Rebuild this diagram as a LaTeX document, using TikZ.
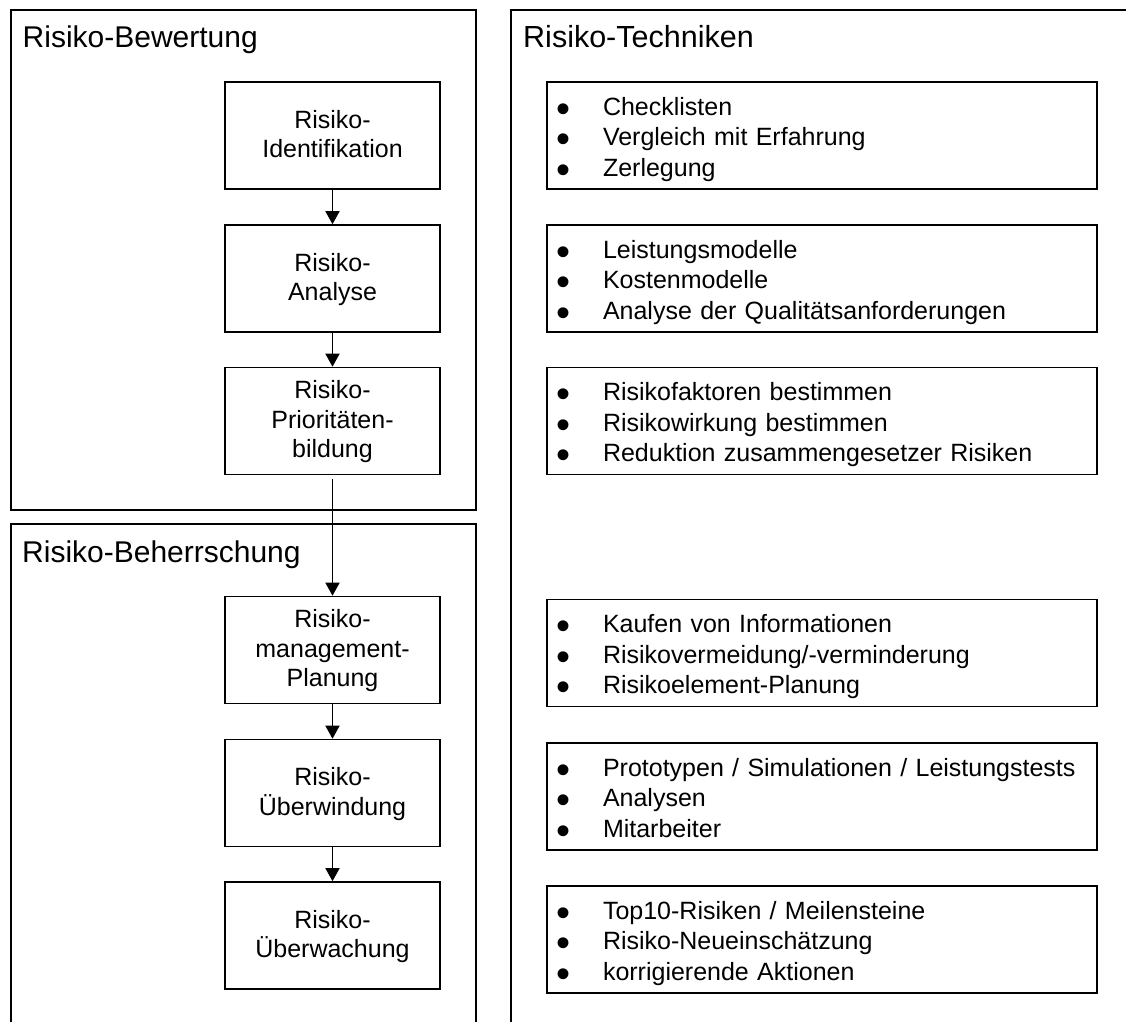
\documentclass[tikz,border=0pt]{standalone}
\usepackage{fontspec}
\setmainfont{Liberation Sans}
\usetikzlibrary{arrows.meta}
% bullet centred in a fixed slot, then the item text
\newcommand\techitem[1]{\makebox[44.4pt][l]{\makebox[8.8pt][c]{\smash{\raisebox{-7pt}{\scalebox{1.6}{•}}}}}#1}
\begin{document}
\begin{tikzpicture}[x=1pt,y=-1pt,
  frame/.style={draw, line width=1.6pt},
  paneltitle/.style={anchor=base west, inner sep=0pt, font=\fontsize{30}{35}\selectfont},
  stage/.style={draw, line width=1.6pt, minimum width=215pt, minimum height=107pt,
    text width=205pt, align=center, inner sep=0pt,
    font=\fontsize{25}{29.5}\selectfont, text height=14.5pt},
  twolines/.style={text depth=29.5pt},
  threelines/.style={text depth=59pt},
  techlist/.style={draw, line width=1.6pt, minimum width=550pt, minimum height=107pt,
    inner xsep=11.6pt, inner ysep=0pt, text width=526.8pt, align=left,
    font=\fontsize{25}{30.5}\selectfont, text height=20pt, text depth=61pt},
  flow/.style={line width=1.5pt, -{Triangle[length=13pt,width=14pt]}}
]
\useasboundingbox (0,0) rectangle (1126,1021);
\clip (0,0) rectangle (1126,1021);

% panels
\draw[frame] (11,10) rectangle (476,510);
\draw[frame] (11,524) rectangle (476,1040);
\draw[frame] (511,10) rectangle (1145,1040);

\node[paneltitle] (tBew) at (22.5,47) {Risiko-Bewertung};
\node[paneltitle] (tBeh) at (22,562) {Risiko-Beherrschung};
\node[paneltitle, font=\fontsize{30.5}{35}\selectfont] (tTech) at (523,47) {Risiko-Techniken};

% process steps
\node[stage,twolines]   (b1) at (332.5,135.5) {Risiko-\\Identifikation};
\node[stage,twolines]   (b2) at (332.5,278.5) {Risiko-\\Analyse};
\node[stage,threelines] (b3) at (332.5,421)   {Risiko-\\Prioritäten-\\bildung};
\node[stage,threelines] (b4) at (332.5,650)   {Risiko-\\management-\\Planung};
\node[stage,twolines]   (b5) at (332.5,793)   {Risiko-\\Überwindung};
\node[stage,twolines]   (b6) at (332.5,935.5) {Risiko-\\Überwachung};

\draw[flow] (b1) -- (b2);
\draw[flow] (b2) -- (b3);
\draw[flow] ([yshift=-4pt]b3.south) -- (b4.north);
\draw[flow] (b4) -- (b5);
\draw[flow] (b5) -- (b6);

% techniques
\node[techlist] (l1) at (822,135.5) {\techitem{Checklisten}\\\techitem{Vergleich mit Erfahrung}\\\techitem{Zerlegung}};
\node[techlist] (l2) at (822,278.5) {\techitem{Leistungsmodelle}\\\techitem{Kostenmodelle}\\\techitem{Analyse der Qualitätsanforderungen}};
\node[techlist] (l3) at (822,421) {\techitem{Risikofaktoren bestimmen}\\\techitem{Risikowirkung bestimmen}\\\techitem{Reduktion zusammengesetzer Risiken}};
\node[techlist] (l4) at (822,653) {\techitem{Kaufen von Informationen}\\\techitem{Risikovermeidung/-verminderung}\\\techitem{Risikoelement-Planung}};
\node[techlist] (l5) at (822,796.5) {\techitem{Prototypen / Simulationen / Leistungstests}\\\techitem{Analysen}\\\techitem{Mitarbeiter}};
\node[techlist] (l6) at (822,939.5) {\techitem{Top10-Risiken / Meilensteine}\\\techitem{Risiko-Neueinschätzung}\\\techitem{korrigierende Aktionen}};
\end{tikzpicture}
\end{document}
